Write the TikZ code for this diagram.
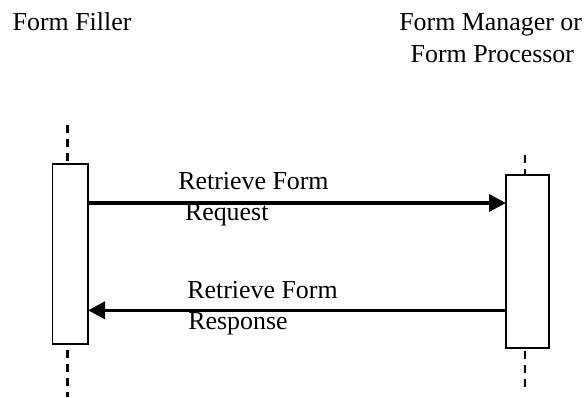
\documentclass[tikz,border=0pt]{standalone}
\usepackage{fontspec}
\setmainfont{Liberation Serif}
\usetikzlibrary{arrows.meta}
\begin{document}
\begin{tikzpicture}[x=1pt,y=-1pt,
  lbl/.style={anchor=base west,inner sep=0pt,outer sep=0pt,font=\fontsize{25.9}{31}\selectfont},
  actbox/.style={draw,line width=1.3pt,fill=white,inner sep=0pt,outer sep=0pt,anchor=north west},
  life/.style={line width=2.7pt,dash pattern=on 8pt off 6pt},
  msg/.style={line width=3.5pt,-{Triangle[length=17pt,width=17pt]}}]
\useasboundingbox (0,0) rectangle (587,397);
% headings
\node[lbl] (filler) at (12.7,30.7) {Form Filler};
\node[lbl] (mgr) at (399.3,30.7) {Form Manager or};
\node[lbl] (proc) at (410.7,62) {Form Processor};
% lifeline coordinates
\coordinate (ltop) at (67.7,125);
\coordinate (lbot) at (67.7,397);
\coordinate (rtop) at (525,155);
\coordinate (rbot) at (525,388);
% activation boxes
\node[actbox,minimum width=35.5pt,minimum height=180pt] (lbox) at (52.5,164) {};
\node[actbox,minimum width=43pt,minimum height=173pt] (rbox) at (506,175) {};
% lifelines
\draw[life] (ltop) -- (ltop |- lbox.north);
\draw[life,dash phase=8pt] (ltop |- lbox.south) -- (lbot);
\draw[life] (rtop) -- (rtop |- rbox.north);
\draw[life,dash phase=11pt] (rtop |- rbox.south) -- (rbot);
% messages
\coordinate (reqy) at (0,203);
\coordinate (resy) at (0,310.3);
\draw[msg] (lbox.east |- reqy) -- (rbox.west |- reqy);
\draw[msg] (rbox.west |- resy) -- (lbox.east |- resy);
% labels
\node[lbl] (req1) at (178.3,189) {Retrieve Form};
\node[lbl] (req2) at (185,220) {Request};
\node[lbl] (res1) at (187.3,298.3) {Retrieve Form};
\node[lbl] (res2) at (188.3,329) {Response};
\end{tikzpicture}
\end{document}
